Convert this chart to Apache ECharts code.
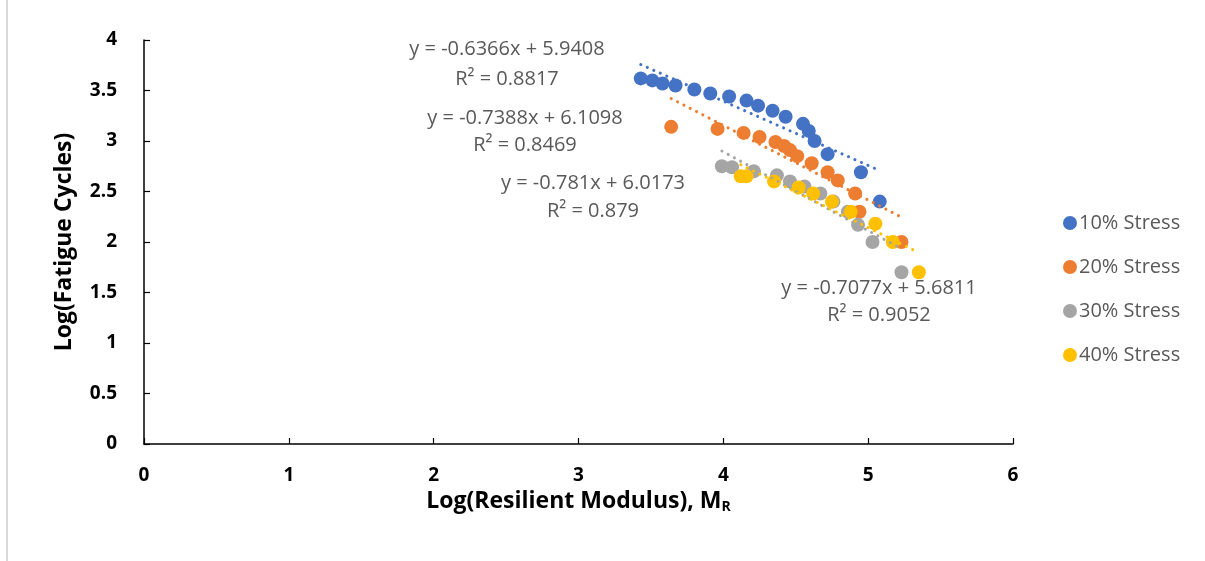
<!DOCTYPE html>
<html>
<head>
<meta charset="utf-8">
<script src="https://cdn.jsdelivr.net/npm/echarts@6/dist/echarts.min.js"></script>
<style>html,body{margin:0;padding:0;background:#fff}#c{width:1205px;height:561px}</style>
</head>
<body>
<div id="c"></div>
<script>
// ---- data ----
const seriesNames = ['10% Stress', '20% Stress', '30% Stress', '40% Stress'];
const colors = ['#4472C4', '#ED7D31', '#A5A5A5', '#FFC000'];

const stress10 = [[3.43,3.62],[3.51,3.60],[3.58,3.57],[3.67,3.55],[3.80,3.51],[3.91,3.47],[4.04,3.44],[4.16,3.40],[4.24,3.35],[4.34,3.30],[4.43,3.24],[4.55,3.17],[4.59,3.10],[4.63,3.00],[4.72,2.87],[4.95,2.69],[5.08,2.40]];
const stress20 = [[3.64,3.14],[3.96,3.12],[4.14,3.08],[4.25,3.04],[4.36,2.99],[4.42,2.95],[4.46,2.91],[4.51,2.85],[4.61,2.78],[4.72,2.69],[4.79,2.61],[4.91,2.48],[4.94,2.30],[5.23,2.00]];
const stress30 = [[3.99,2.75],[4.06,2.74],[4.21,2.70],[4.37,2.66],[4.46,2.60],[4.56,2.55],[4.67,2.48],[4.76,2.40],[4.86,2.30],[4.93,2.17],[5.03,2.00],[5.23,1.70]];
const stress40 = [[4.12,2.65],[4.16,2.65],[4.35,2.60],[4.52,2.54],[4.62,2.48],[4.75,2.40],[4.88,2.30],[5.05,2.18],[5.17,2.00],[5.35,1.70]];

const slopes = [-0.6366, -0.7388, -0.781, -0.7077];
const intercepts = [5.9408, 6.1098, 6.0173, 5.6811];
const r2 = ['0.8817', '0.8469', '0.879', '0.9052'];

const xTicks = [0, 1, 2, 3, 4, 5, 6];
const yTicks = [0, 0.5, 1, 1.5, 2, 2.5, 3, 3.5, 4];

// ---- build chart ----
const allData = [stress10, stress20, stress30, stress40];
const scatterSeries = allData.map((d, i) => ({
  name: seriesNames[i],
  type: 'scatter',
  data: d,
  symbol: 'circle',
  symbolSize: 14,
  itemStyle: { color: colors[i], opacity: 1 },
  z: 2 + i
}));
const trendSeries = allData.map((d, i) => {
  const xs = d.map(p => p[0]);
  const x0 = Math.min(...xs), x1 = Math.max(...xs);
  return {
    name: 'trend' + i,
    type: 'line',
    data: [[x0, slopes[i] * x0 + intercepts[i]], [x1, slopes[i] * x1 + intercepts[i]]],
    symbol: 'none',
    lineStyle: { color: colors[i], width: 3, type: [0.1, 7], cap: 'round' },
    z: 10,
    silent: true
  };
});

const labelPos = [[507, 49, 79], [525, 118, 145], [593, 183, 211], [879, 288, 315]];
const FONT = 'Open Sans';
const annotations = [];
labelPos.forEach((p, i) => {
  annotations.push({ type: 'text', x: p[0], y: p[1], style: { text: 'y = ' + slopes[i] + 'x + ' + intercepts[i], fill: '#595959', font: '20px "' + FONT + '"', align: 'center', verticalAlign: 'middle' }, z: 20 });
  annotations.push({ type: 'text', x: p[0], y: p[2], style: { text: 'R\u00B2 = ' + r2[i], fill: '#595959', font: '20px "' + FONT + '"', align: 'center', verticalAlign: 'middle' }, z: 20 });
});
annotations.push({ type: 'rect', shape: { x: 6, y: 0, width: 2, height: 561 }, style: { fill: '#d9d9d9' } });

const chart = echarts.init(document.getElementById('c'), null, { renderer: 'canvas' });
chart.setOption({
  animation: false,
  backgroundColor: '#fff',
  textStyle: { fontFamily: FONT },
  grid: { left: 144, top: 40, width: 869, height: 404, containLabel: false },
  legend: {
    data: seriesNames,
    orient: 'vertical',
    left: 1058, top: 208,
    itemWidth: 14, itemHeight: 14, itemGap: 24,
    icon: 'circle',
    textStyle: { fontSize: 20, color: '#595959', fontFamily: FONT, padding: [0, 0, 0, -3] }
  },
  xAxis: {
    type: 'value', min: 0, max: 6, interval: 1,
    name: '{a|Log(Resilient Modulus), M}{s|R}',
    nameLocation: 'middle', nameGap: 44, nameMoveOverlap: false,
    nameTextStyle: { rich: { a: { fontSize: 23, fontWeight: 'bold', color: '#000', fontFamily: FONT }, s: { fontSize: 14, fontWeight: 'bold', color: '#000', fontFamily: FONT, verticalAlign: 'bottom', padding: [12, 0, 0, 0] } } },
    axisLine: { lineStyle: { color: '#000', width: 1.5 } },
    axisTick: { inside: true, length: 6, lineStyle: { color: '#000', width: 1.2 } },
    axisLabel: { margin: 22, fontSize: 19, fontWeight: 'bold', color: '#000', fontFamily: FONT, formatter: v => xTicks.includes(v) ? String(v) : '' },
    splitLine: { show: false }
  },
  yAxis: {
    type: 'value', min: 0, max: 4, interval: 0.5,
    name: 'Log(Fatigue Cycles)',
    nameLocation: 'middle', nameGap: 68,
    nameTextStyle: { fontSize: 23, fontWeight: 'bold', color: '#000', fontFamily: FONT },
    axisLine: { show: true, lineStyle: { color: '#000', width: 1.5 } },
    axisTick: { show: true, inside: true, length: 6, lineStyle: { color: '#000', width: 1.2 } },
    axisLabel: { margin: 27, fontSize: 19, fontWeight: 'bold', color: '#000', fontFamily: FONT, formatter: v => yTicks.includes(v) ? String(v) : '' },
    splitLine: { show: false }
  },
  graphic: annotations,
  series: scatterSeries.concat(trendSeries)
});
</script>
</body>
</html>
